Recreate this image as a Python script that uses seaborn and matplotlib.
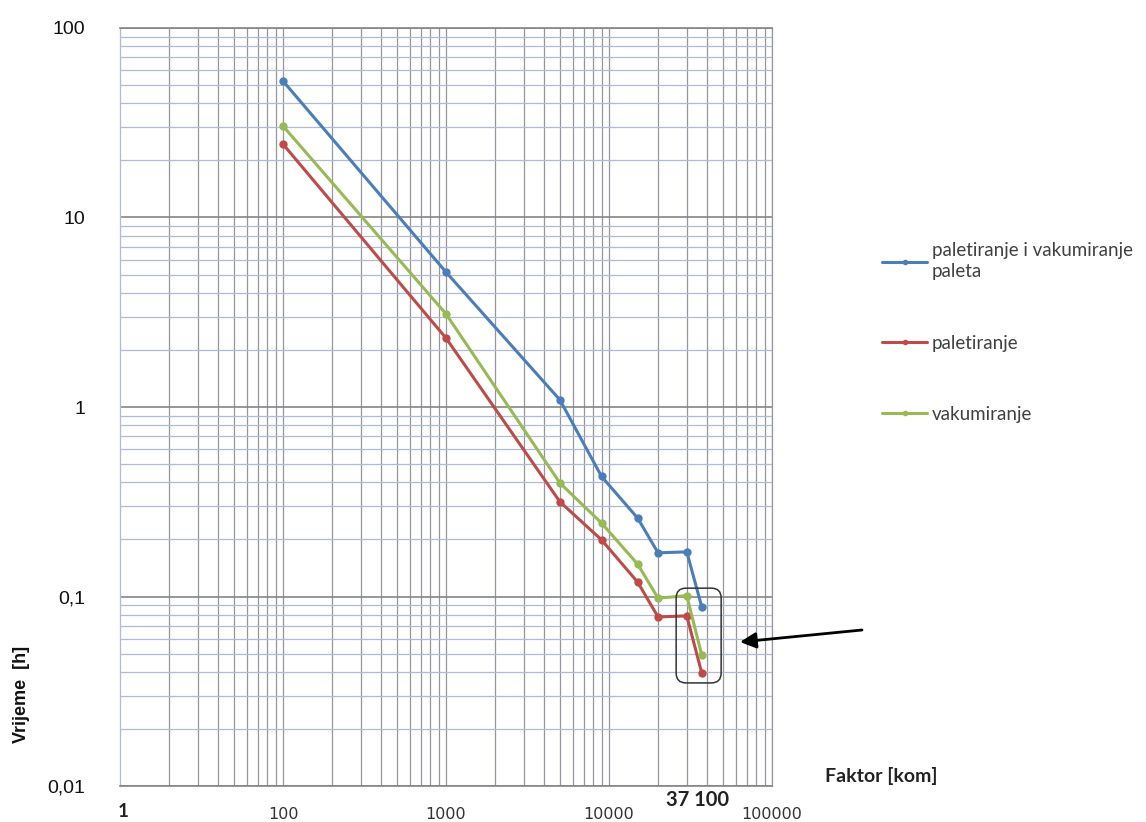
import numpy as np
import pandas as pd
import seaborn as sns
import matplotlib.pyplot as plt
from matplotlib.lines import Line2D
from matplotlib.patches import FancyBboxPatch
from matplotlib.ticker import LogLocator, NullFormatter

# Podaci ocitani s grafa
faktor = [100, 1000, 5000, 9000, 15000, 20000, 30000, 37100]
pal_i_vak = [52.5, 5.15, 1.09, 0.43, 0.259, 0.170, 0.172, 0.088]
paletiranje = [24.4, 2.31, 0.316, 0.199, 0.119, 0.078, 0.079, 0.0394]
vakumiranje = [30.4, 3.10, 0.397, 0.244, 0.148, 0.098, 0.101, 0.049]

serije = ['paletiranje i vakumiranje\npaleta', 'paletiranje', 'vakumiranje']
boje = ['#4a7ebb', '#be4b48', '#98b954']

x_ticks = [100, 1000, 10000, 100000]
x_labels = ['100', '1000', '10000', '100000']
y_ticks = [0.01, 0.1, 1, 10, 100]
y_labels = ['0,01', '0,1', '1', '10', '100']

df = pd.DataFrame({
    'faktor': faktor * 3,
    'vrijeme': pal_i_vak + paletiranje + vakumiranje,
    'serija': [serije[0]] * len(faktor) + [serije[1]] * len(faktor) + [serije[2]] * len(faktor),
})

sns.set_style('white')
fig = plt.figure(figsize=(11.46, 8.22), dpi=100)
ax = fig.add_axes([120 / 1146, 36 / 822, 652 / 1146, 758 / 822])

sns.lineplot(data=df, x='faktor', y='vrijeme', hue='serija', palette=dict(zip(serije, boje)),
             marker='o', markersize=6, markeredgewidth=0, linewidth=2.2, sort=False,
             legend=False, ax=ax, zorder=3)

ax.set_xscale('log')
ax.set_yscale('log')
ax.set_xlim(10, 100000)
ax.set_ylim(0.01, 100)

ax.set_xticks(x_ticks)
ax.set_xticklabels(x_labels, fontsize=11.5, family='DejaVu Sans', color='#333333')
ax.set_yticks(y_ticks)
ax.set_yticklabels(y_labels, fontsize=14, family='Liberation Sans', color='#111111')
ax.xaxis.set_minor_locator(LogLocator(base=10, subs=np.arange(2, 10), numticks=20))
ax.yaxis.set_minor_locator(LogLocator(base=10, subs=np.arange(2, 10), numticks=20))
ax.xaxis.set_minor_formatter(NullFormatter())
ax.yaxis.set_minor_formatter(NullFormatter())
ax.tick_params(axis='x', which='both', length=0, pad=15)
ax.tick_params(axis='y', which='both', length=0, pad=25)

# mreza
ax.set_axisbelow(True)
ax.grid(axis='x', which='both', color='#96969e', linewidth=0.9)
ax.grid(axis='y', which='major', color='#858585', linewidth=1.2)
ax.grid(axis='y', which='minor', color='#b0bad4', linewidth=0.9)
ax.set_xlabel('')
ax.set_ylabel('')
for s in ['top', 'bottom']:
    ax.spines[s].set_color('#858585')
    ax.spines[s].set_linewidth(1.2)
ax.spines['left'].set_color('#b0bad4')
ax.spines['right'].set_color('#96969e')
for s in ['left', 'right']:
    ax.spines[s].set_linewidth(0.9)

# legenda
handles = [Line2D([], [], color=c, linewidth=2.2, marker='o', markersize=4, markeredgewidth=0) for c in boje]
leg = fig.legend(handles, serije, loc='upper left', bbox_to_anchor=(882 / 1146, 1 - 242 / 822),
                 frameon=False, borderpad=0, borderaxespad=0, handlelength=2.4, handletextpad=0.25,
                 labelspacing=2.9, prop={'family': 'Lato', 'size': 13.5})
for t in leg.get_texts():
    t.set_color('#404040')
    t.set_linespacing(1.3)

# oznake
bold = {'family': 'Lato', 'weight': 'bold', 'color': '#222222'}
fig.text(881 / 1146, 1 - 776 / 822, 'Faktor [kom]', ha='center', va='center', size=14, **bold)
fig.text(698 / 1146, 1 - 800 / 822, '37 100', ha='center', va='center', size=14.5, **bold)
fig.text(123 / 1146, 1 - 811 / 822, '1', ha='center', va='center', size=13.5, **bold)
fig.text(22 / 1146, 1 - 694 / 822, 'Vrijeme  [h]', rotation=90, ha='center', va='center',
         family='Liberation Sans', weight='bold', size=13, color='#111111')

# okvir oko zadnjih tocaka i strelica
box = FancyBboxPatch((0.853, 0.136), 0.069, 0.125, boxstyle='round,pad=0,rounding_size=0.015',
                     mutation_aspect=652 / 758, transform=ax.transAxes, facecolor='none',
                     edgecolor='#333333', linewidth=1.1, zorder=4, clip_on=False)
ax.add_patch(box)
ax.annotate('', xy=(740 / 1146, 1 - 642 / 822), xytext=(862 / 1146, 1 - 630 / 822),
            xycoords='figure fraction', textcoords='figure fraction',
            arrowprops=dict(arrowstyle='-|>', mutation_scale=24, lw=2, color='black',
                            shrinkA=0, shrinkB=0))

plt.savefig('out.png', dpi=100)
